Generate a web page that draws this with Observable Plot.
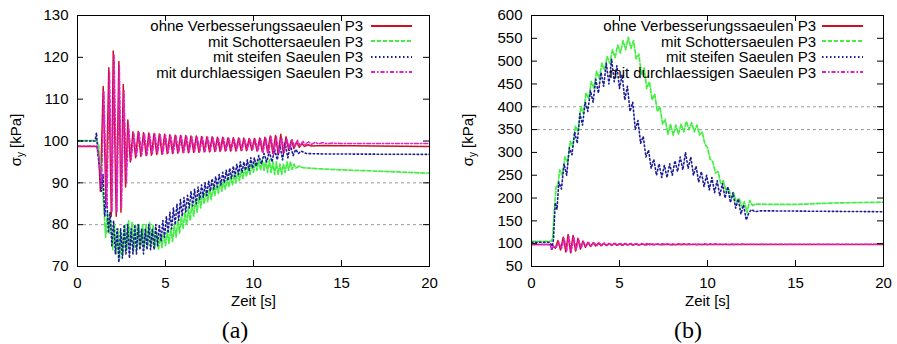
<!DOCTYPE html>
<html><head><meta charset="utf-8">
<script src="https://cdn.jsdelivr.net/npm/d3@7"></script>
<script src="https://cdn.jsdelivr.net/npm/@observablehq/plot@0.6"></script>
<style>
body{margin:0;background:#fff;}
#wrap{position:relative;width:897px;height:344px;font-family:"Liberation Sans",Arial,sans-serif;color:#000;overflow:hidden;background:#fff;}
.abs{position:absolute;}
.leg{position:absolute;font-size:15px;line-height:15px;height:15px;text-align:right;white-space:nowrap;}
.ylab{position:absolute;font-size:15px;line-height:17px;white-space:nowrap;transform:translate(-50%,-50%) rotate(-90deg);}
.ylab sub{font-size:10px;vertical-align:-3px;line-height:0;}
.cap{position:absolute;font-family:"Liberation Serif","Times New Roman",serif;font-size:24px;line-height:24px;transform:translate(-50%,-50%);}
</style>
</head><body>
<div id="wrap">
  <div id="pa" class="abs" style="left:0;top:0"></div>
  <div id="pb" class="abs" style="left:450px;top:0"></div>
</div>
<script>
// ---- labels ----
const seriesNames = ["ohne Verbesserungssaeulen P3","mit Schottersaeulen P3","mit steifen Saeulen P3","mit durchlaessigen Saeulen P3"];
const xLabel = "Zeit [s]";
const panelLabels = ["(a)","(b)"];
const xTicks = [0,5,10,15,20];
const yTicksA = [70,80,90,100,110,120,130];
const yTicksB = [50,100,150,200,250,300,350,400,450,500,550,600];
const gridA = [80,90];
const gridB = [350,400];

// ---- panel (a) data: [time s, sigma_y kPa] ----
const redA = [[0,98.7],[1.1,98.7],[1.2,97],[1.3,88],[1.46,113],[1.62,85],[1.78,117.5],[1.92,82],[2.03,121.5],[2.2,82],[2.35,119],[2.47,83],[2.6,113.5],[2.73,89],[2.86,105],[3.0,95],
[3.15,102.2],[3.3,96],[3.45,102.3],[3.6,96.3],[3.75,102],[3.9,96.5],[4.05,101.9],[4.2,96.6],[4.35,101.8],[4.5,96.8],[4.65,101.7],[4.8,96.8],[4.95,101.6],[5.1,97],[5.25,101.5],[5.4,97],[5.55,101.4],[5.7,97.1],[5.85,101.3],[6.0,97.2],[6.15,101.3],[6.3,97.2],[6.45,101.2],[6.6,97.3],[6.75,101.2],[6.9,97.3],[7.05,101.1],[7.2,97.4],[7.35,101],[7.5,97.4],[7.65,101],[7.8,97.5],[7.95,100.9],[8.1,97.5],[8.25,100.9],[8.4,97.6],[8.55,100.8],[8.7,97.6],[8.85,100.8],[9.0,97.6],[9.15,100.7],[9.3,97.7],[9.45,100.7],[9.6,97.7],[9.75,100.6],[9.9,97.8],[10.05,100.6],[10.2,97.6],[10.35,100.7],[10.5,97.4],[10.65,100.9],[10.8,97.2],[10.95,101.2],[11.1,97],[11.25,101.3],[11.4,96.8],[11.55,101.6],[11.7,97],[11.85,101],[12.0,97.8],[12.15,100.2],[12.3,98.2],[12.45,99.8],[12.6,98.5],[12.75,99.4],[12.9,98.7],[13.1,99.1],[13.3,98.8],[14,98.9],[20,98.7]];
const greenA = [[0,100.1],[1.1,100.1],[1.2,99],[1.3,95],[1.4,90],[1.5,84],[1.6,77],[1.7,83],[1.8,78],[1.9,81],[2.0,74],[2.1,80],[2.2,73],[2.3,79],[2.4,72],[2.5,78],[2.6,73],[2.7,80],[2.8,74],[2.9,81],[3.0,75],[3.1,80.5],[3.2,74],[3.3,80],[3.4,74.5],[3.5,80],[3.6,75],[3.7,80],[3.8,74.5],[3.9,80],[4.0,75],[4.1,80.5],[4.2,75],[4.3,80],[4.4,74.5],[4.5,78],[4.6,74],[4.7,77.5],[4.8,74.5],[4.9,78],[5.0,75],[5.1,78.5],[5.2,75.5],[5.3,79],[5.4,76],[5.5,80],[5.6,77],[5.7,81],[5.8,78],[5.9,82],[6.0,79],[6.1,83],[6.2,80],[6.3,84],[6.4,81],[6.5,85],[6.6,82],[6.7,86],[6.8,83],[6.9,87],[7.0,84],[7.1,87.5],[7.2,85],[7.3,88],[7.4,85.5],[7.5,88.5],[7.6,86],[7.7,89],[7.8,87],[7.9,89.5],[8.0,87.5],[8.1,90],[8.2,88],[8.3,90.5],[8.4,88.5],[8.5,91],[8.6,89],[8.7,91.5],[8.8,89.5],[8.9,92],[9.0,90],[9.1,92.5],[9.2,90.5],[9.3,93],[9.4,91],[9.5,93.5],[9.6,91.5],[9.7,94],[9.8,92],[9.9,94.5],[10.0,92.5],[10.1,95],[10.2,93],[10.3,95.5],[10.4,93],[10.5,95.5],[10.6,93],[10.7,95.5],[10.8,92.5],[10.9,95.5],[11.0,92.5],[11.1,95],[11.2,92],[11.3,95],[11.4,92],[11.5,94.5],[11.6,92],[11.7,94.5],[11.8,92.5],[11.9,95],[12.0,93],[12.1,95],[12.2,93.2],[12.3,94.5],[12.4,93.5],[12.6,94],[12.8,93.6],[13.2,93.5],[14,93.3],[15,93.1],[17,92.8],[20,92.3]];
const blueA = [[0,100],[1.0,100],[1.08,102],[1.15,97],[1.25,94],[1.35,88],[1.45,92],[1.55,82],[1.65,88],[1.75,78],[1.85,83],[1.95,75],[2.05,81],[2.15,73],[2.25,79],[2.35,71],[2.45,79],[2.55,72],[2.65,80],[2.75,73],[2.85,80],[2.95,72],[3.05,79],[3.15,73],[3.25,80],[3.35,73],[3.45,80],[3.55,74],[3.65,79],[3.75,73],[3.85,79],[3.95,74],[4.05,80],[4.15,74],[4.25,79],[4.35,74],[4.45,80],[4.55,75],[4.65,80],[4.75,76],[4.85,81],[4.95,77],[5.05,82],[5.15,78],[5.25,83],[5.35,79],[5.45,84],[5.55,80],[5.65,85],[5.75,81],[5.85,86],[5.95,82],[6.05,86.5],[6.15,83],[6.25,87],[6.35,84],[6.45,88],[6.55,84.5],[6.65,88.5],[6.75,85],[6.85,89],[6.95,86],[7.05,89.5],[7.15,86.5],[7.25,90],[7.35,87],[7.45,90.5],[7.55,88],[7.65,91],[7.75,88.5],[7.85,91.5],[7.95,89],[8.05,92],[8.15,89.5],[8.25,92.5],[8.35,90],[8.45,93],[8.55,90.5],[8.65,93.5],[8.75,91],[8.85,94],[8.95,91.5],[9.05,94.5],[9.15,92],[9.25,95],[9.35,92.5],[9.45,95],[9.55,93],[9.65,95.5],[9.75,93],[9.85,96],[9.95,93.5],[10.05,96],[10.15,94],[10.3,96.5],[10.45,94.5],[10.6,97],[10.75,95],[10.9,97.5],[11.05,95],[11.2,98],[11.35,95.5],[11.5,99],[11.65,95.5],[11.8,99.5],[11.95,96],[12.1,99],[12.25,96.5],[12.4,98],[12.55,97],[12.7,97.6],[13,97],[14,96.9],[20,96.8]];
const magA = [[0,98.8],[1.1,98.8],[1.22,96],[1.36,89],[1.5,112],[1.66,84],[1.82,116.5],[1.96,83],[2.08,120.5],[2.24,83],[2.38,118],[2.5,84],[2.64,112],[2.78,90],[2.9,104],[3.05,95.5],
[3.2,101.8],[3.35,96.2],[3.5,102],[3.65,96.5],[3.8,101.8],[3.95,96.7],[4.1,101.7],[4.25,96.8],[4.4,101.6],[4.55,97],[4.7,101.5],[4.85,97],[5.0,101.4],[5.15,97.1],[5.3,101.3],[5.45,97.2],[5.6,101.2],[5.75,97.2],[5.9,101.2],[6.05,97.3],[6.2,101.1],[6.35,97.4],[6.5,101],[6.65,97.4],[6.8,101],[6.95,97.5],[7.1,100.9],[7.25,97.5],[7.4,100.9],[7.55,97.6],[7.7,100.8],[7.85,97.6],[8.0,100.8],[8.15,97.7],[8.3,100.7],[8.45,97.7],[8.6,100.7],[8.75,97.8],[8.9,100.6],[9.05,97.8],[9.2,100.6],[9.35,97.8],[9.5,100.5],[9.65,97.9],[9.8,100.5],[9.95,97.9],[10.1,100.4],[10.25,97.6],[10.4,100.6],[10.55,97.3],[10.7,100.8],[10.85,97],[11.0,101],[11.15,96.8],[11.3,101],[11.45,97],[11.6,100.8],[11.75,97.4],[11.9,100.5],[12.05,98],[12.2,100.3],[12.35,98.5],[12.5,100.2],[12.65,98.8],[12.8,100],[12.95,99],[13.1,99.9],[13.3,99.2],[13.5,99.7],[13.7,99.3],[13.9,99.6],[14.2,99.4],[14.5,99.5],[15,99.4],[20,99.4]];

// ---- panel (b) data ----
const redB = [[0,98],[1.1,98],[1.2,96],[1.35,90],[1.5,107],[1.65,86],[1.8,114],[1.95,82],[2.08,120],[2.22,80],[2.36,118],[2.5,84],[2.64,112],[2.78,88],[2.92,106],[3.06,92],[3.2,103],[3.35,94],[3.5,102],[3.65,95],[3.8,101.5],[3.95,95.5],[4.1,101],[4.25,96],[4.4,100.5],[4.55,96],[4.7,100.5],[4.85,96.5],[5.0,100],[5.15,96.5],[5.3,100],[5.45,97],[5.6,99.5],[5.75,97],[5.9,99.5],[6.1,97.2],[6.3,99.3],[6.5,97.3],[6.7,99.2],[6.9,97.5],[7.1,99],[7.4,97.6],[7.7,98.8],[8,97.8],[8.4,98.6],[9,98],[20,98]];
const greenB = [[0,105],[1.1,105],[1.2,112],[1.3,175],[1.4,225],[1.5,228],[1.6,262],[1.75,250],[1.9,290],[2.05,278],[2.2,325],[2.35,312],[2.5,358],[2.65,345],[2.8,400],[2.95,385],[3.1,430],[3.25,418],[3.4,455],[3.55,440],[3.7,478],[3.85,462],[4.0,495],[4.15,480],[4.3,510],[4.45,495],[4.6,525],[4.75,508],[4.9,535],[5.05,518],[5.2,545],[5.35,525],[5.5,552],[5.65,528],[5.8,545],[5.95,505],[6.1,515],[6.25,470],[6.4,485],[6.55,440],[6.7,455],[6.85,415],[7.0,428],[7.15,390],[7.3,400],[7.45,362],[7.6,372],[7.75,340],[7.9,362],[8.05,338],[8.2,360],[8.35,340],[8.5,362],[8.65,345],[8.8,368],[8.95,350],[9.1,365],[9.25,345],[9.4,360],[9.55,338],[9.7,345],[9.85,318],[10.0,310],[10.15,285],[10.3,280],[10.45,255],[10.6,258],[10.75,232],[10.9,238],[11.05,215],[11.2,222],[11.35,200],[11.5,210],[11.65,190],[11.8,200],[11.95,180],[12.1,192],[12.25,168],[12.4,195],[12.55,184],[12.8,187],[13.5,186],[15,186],[17,189],[20,191]];
const blueB = [[0,103],[1.0,103],[1.1,100],[1.15,85],[1.25,110],[1.35,190],[1.45,175],[1.55,235],[1.7,220],[1.85,275],[2.0,250],[2.15,310],[2.3,295],[2.45,345],[2.6,320],[2.75,385],[2.9,360],[3.05,410],[3.2,390],[3.35,435],[3.5,410],[3.65,460],[3.8,430],[3.95,475],[4.1,445],[4.25,495],[4.4,450],[4.55,505],[4.7,455],[4.85,490],[5.0,440],[5.15,470],[5.3,415],[5.45,445],[5.6,390],[5.75,410],[5.9,350],[6.05,370],[6.2,320],[6.35,335],[6.5,290],[6.65,305],[6.8,265],[6.95,285],[7.1,250],[7.25,275],[7.4,245],[7.55,272],[7.7,245],[7.85,275],[8.0,250],[8.15,282],[8.3,258],[8.45,290],[8.6,262],[8.75,300],[8.9,265],[9.05,290],[9.2,250],[9.35,270],[9.5,235],[9.65,258],[9.8,225],[9.95,250],[10.1,218],[10.25,245],[10.4,212],[10.55,238],[10.7,205],[10.85,232],[11.0,200],[11.15,225],[11.3,190],[11.45,212],[11.6,178],[11.75,198],[11.9,165],[12.05,185],[12.2,152],[12.35,168],[12.5,175],[12.7,170],[13,172],[20,170]];
const magB = [[0,98],[1.05,98],[1.15,88],[1.25,94],[1.4,92],[1.55,104],[1.7,88],[1.85,112],[2.0,84],[2.12,116],[2.26,82],[2.4,115],[2.54,86],[2.68,110],[2.82,90],[2.96,104],[3.1,94],[3.25,102.5],[3.4,95],[3.55,102],[3.7,95.5],[3.85,101.5],[4.0,96],[4.15,101.5],[4.3,96],[4.45,101],[4.6,96.5],[4.75,101],[4.9,96.5],[5.05,101],[5.2,96.5],[5.35,100.8],[5.5,96.8],[5.65,100.8],[5.8,96.8],[5.95,100.7],[6.1,97],[6.25,100.7],[6.4,97],[6.55,100.5],[6.7,97],[6.85,100.5],[7.0,97.2],[7.15,100.5],[7.3,97.2],[7.45,100.3],[7.6,97.3],[7.75,100.3],[7.9,97.4],[8.05,100.2],[8.2,97.4],[8.35,100.2],[8.5,97.5],[8.65,100],[8.8,97.5],[8.95,100],[9.1,97.6],[9.25,100],[9.4,97.6],[9.55,99.9],[9.7,97.7],[9.85,99.9],[10.0,97.8],[10.15,99.8],[10.3,97.8],[10.45,99.8],[10.6,97.9],[10.75,99.7],[10.9,97.9],[11.05,99.6],[11.2,98],[11.35,99.5],[11.5,98],[11.65,99.4],[11.8,98.2],[12,99.2],[12.3,98.5],[12.6,99],[13,98.8],[20,98.6]];

// ---- styles ----
const colors = ["#cc1020","#44ee44","#1c1c96","#e020c8"];
const dashes = [null,"4,2","1.5,2.5","4,2,1.5,2"];
const widths = [1.5,1.7,1.6,1.5];

function panel(series, yDomain, yTicks, grid, W, ML, MR) {
  const H = 315, MT = 15, MB = 49;
  const fw = W - ML - MR, fh = H - MT - MB;
  const marks = [
    Plot.gridY(grid, {stroke:"#9a9a9a", strokeOpacity:1, strokeDasharray:"3,3", strokeWidth:1}),
    ...series.map((s,i) => Plot.line(s, {x: d=>d[0], y: d=>d[1], stroke: colors[i], strokeWidth: widths[i], strokeDasharray: dashes[i], clip: true})),
    // inward tick marks on all four sides
    Plot.tickX(xTicks, {x: d=>d, insetTop: fh-6, stroke:"#000"}),
    Plot.tickX(xTicks, {x: d=>d, insetBottom: fh-6, stroke:"#000"}),
    Plot.tickY(yTicks, {y: d=>d, insetRight: fw-6, stroke:"#000"}),
    Plot.tickY(yTicks, {y: d=>d, insetLeft: fw-6, stroke:"#000"}),
    Plot.axisX(xTicks, {tickSize: 0, tickPadding: 11, label: null}),
    Plot.axisY(yTicks, {tickSize: 0, tickPadding: 9, label: null}),
    Plot.text([xLabel], {frameAnchor: "bottom", dy: 39, fontSize: 15}),
    Plot.frame({stroke: "#000", strokeWidth: 1})
  ];
  return Plot.plot({
    width: W, height: H, marginTop: MT, marginBottom: MB, marginLeft: ML, marginRight: MR,
    x: {domain: [0,20], axis: null},
    y: {domain: yDomain, axis: null},
    style: {fontFamily: '"Liberation Sans", Arial, sans-serif', fontSize: "15px", color: "#000", background: "transparent", overflow: "visible"},
    marks
  });
}

document.getElementById("pa").append(panel([redA,greenA,blueA,magA],[70,130],yTicksA,gridA,450,77,21));
document.getElementById("pb").append(panel([redB,greenB,blueB,magB],[50,600],yTicksB,gridB,447,81,14));

// ---- legends, y labels, captions (HTML overlay) ----
const wrap = document.getElementById("wrap");
const rowY = [25.5, 41, 56.5, 72];
function legend(textRight, sampleLeft) {
  seriesNames.forEach((name,i) => {
    const t = document.createElement("div");
    t.className = "leg";
    t.style.left = (textRight - 300) + "px"; t.style.width = "300px";
    t.style.top = (rowY[i] - 7.5) + "px";
    t.textContent = name;
    wrap.append(t);
    const s = d3.create("svg").attr("width", 44).attr("height", 6)
      .style("position","absolute").style("left", sampleLeft+"px").style("top", (rowY[i]-3)+"px");
    s.append("line").attr("x1",0).attr("x2",41).attr("y1",3).attr("y2",3)
      .attr("stroke", colors[i]).attr("stroke-width", widths[i]+0.3).attr("stroke-dasharray", dashes[i]);
    wrap.append(s.node());
  });
}
legend(363, 371);
legend(816, 822);

[[15,"pa"],[467,"pb"]].forEach(([x]) => {
  const d = document.createElement("div");
  d.className = "ylab";
  d.style.left = x + "px"; d.style.top = "140px";
  d.innerHTML = "σ<sub>y</sub> [kPa]";
  wrap.append(d);
});
[[235,panelLabels[0]],[688,panelLabels[1]]].forEach(([x,t]) => {
  const d = document.createElement("div");
  d.className = "cap";
  d.style.left = x + "px"; d.style.top = "330px";
  d.textContent = t;
  wrap.append(d);
});
</script>
</body></html>
